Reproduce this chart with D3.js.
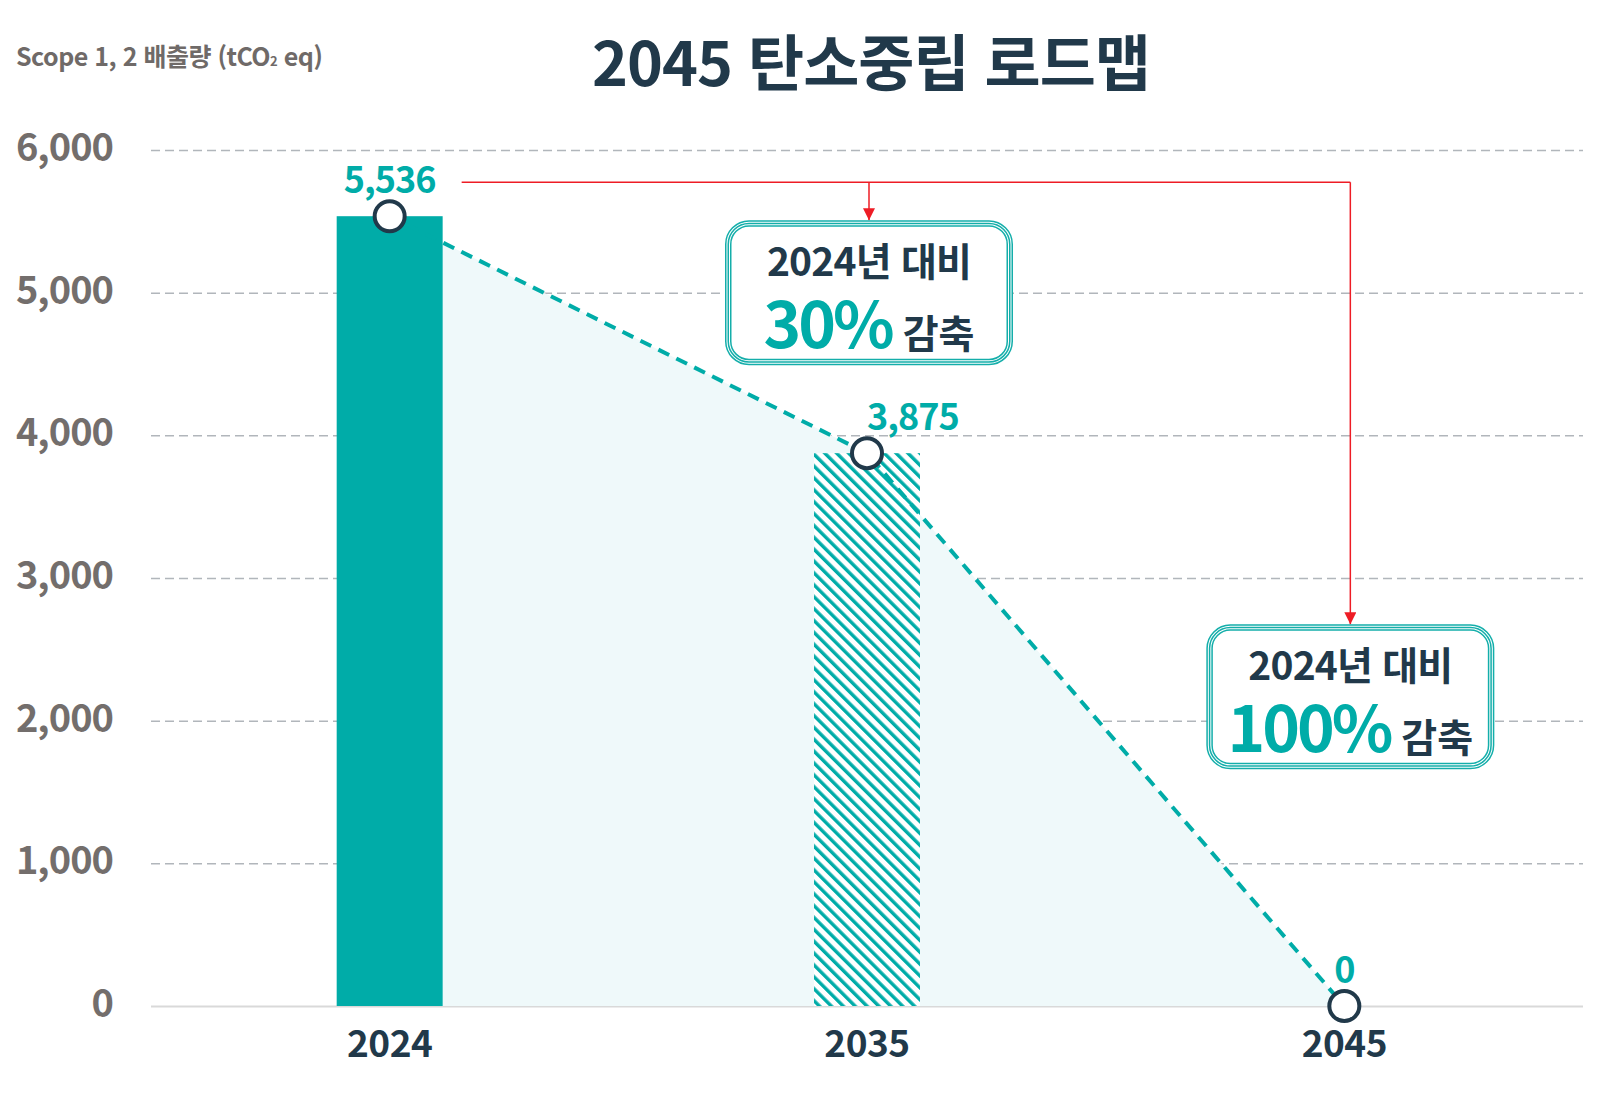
<!DOCTYPE html>
<html lang="ko">
<head>
<meta charset="utf-8">
<title>2045 탄소중립 로드맵</title>
<script src="https://cdn.jsdelivr.net/npm/d3@7"></script>
<style>
  body { margin: 0; background: #fff; }
  svg text { font-family: "Noto Sans CJK KR", "Noto Sans", sans-serif; font-weight: 700; }
</style>
</head>
<body>
<div id="roadmap-wrapper"></div>
<script>
/* data */
const years = ["2024", "2035", "2045"];
const emissions = [5536, 3875, 0];
const yTicks = [0, 1000, 2000, 3000, 4000, 5000, 6000];
const actualYears = ["2024"]; // solid bar, the rest are targets (hatched)
const calloutYears = ["2035", "2045"];
const reductions = [30, 100];
const baseYear = "2024";

const teal = "#00aca8";
const navy = "#21394a";
const gray = "#736e6c";
const red = "#ee1c25";

/* svg setup */
const margin = { top: 150, right: 27, bottom: 97, left: 151 };
const width = 1610;
const height = 1103;
const chartWidth = width - margin.left - margin.right;
const chartHeight = height - margin.top - margin.bottom;

const svg = d3
  .select("#roadmap-wrapper")
  .append("svg")
  .attr("width", width)
  .attr("height", height);

const defs = svg.append("defs");
defs
  .append("pattern")
  .attr("id", "hatch")
  .attr("patternUnits", "userSpaceOnUse")
  .attr("width", 8.4)
  .attr("height", 8.4)
  .attr("patternTransform", "rotate(-45)")
  .append("rect")
  .attr("width", 3.4)
  .attr("height", 8.4)
  .attr("fill", teal);

defs
  .append("marker")
  .attr("id", "arrow")
  .attr("viewBox", "0 0 12 12")
  .attr("refX", 12)
  .attr("refY", 6)
  .attr("markerWidth", 12)
  .attr("markerHeight", 12)
  .attr("markerUnits", "userSpaceOnUse")
  .attr("orient", "auto")
  .append("path")
  .attr("d", "M0,0 L12,6 L0,12 Z")
  .attr("fill", red);

const g = svg
  .append("g")
  .attr("transform", `translate(${margin.left},${margin.top})`);

/* scales */
const x = d3
  .scaleBand()
  .domain(years)
  .range([0, chartWidth])
  .paddingInner(0.778)
  .paddingOuter(0.389);
const y = d3.scaleLinear().domain([0, 6000]).range([chartHeight, 0]);
const cx = (yr) => x(yr) + x.bandwidth() / 2;

const points = years.map((yr, i) => ({ year: yr, value: emissions[i] }));

/* titles */
svg
  .append("text")
  .attr("x", 871)
  .attr("y", 86)
  .attr("text-anchor", "middle")
  .attr("fill", navy)
  .style("font-size", "61px")
  .style("letter-spacing", "-1px")
  .text(`${years[years.length - 1]} 탄소중립 로드맵`);

const unit = svg
  .append("text")
  .attr("x", 16)
  .attr("y", 66)
  .attr("fill", "#6f6a68")
  .style("font-size", "25px")
  .style("letter-spacing", "-0.5px");
unit.append("tspan").text("Scope 1, 2 배출량 (tCO");
unit.append("tspan").style("font-size", "13px").text("2");
unit.append("tspan").text(" eq)");

/*
 * Y Axis + grid
 */
g.append("g")
  .call(
    d3
      .axisLeft(y)
      .tickValues(yTicks)
      .tickSize(-chartWidth)
      .tickPadding(38)
      .tickFormat(d3.format(","))
  )
  .call((ax) => ax.select(".domain").remove())
  .call((ax) =>
    ax
      .selectAll(".tick line")
      .attr("stroke", (d) => (d === 0 ? "#d9d9d9" : "#b1b6bb"))
      .attr("stroke-width", (d) => (d === 0 ? 2 : 1.5))
      .attr("stroke-dasharray", (d) => (d === 0 ? null : "9,5"))
  )
  .call((ax) =>
    ax
      .selectAll(".tick text")
      .attr("fill", gray)
      .attr("dy", "0.28em")
      .style("font-size", "38px")
      .style("letter-spacing", "-1px")
  );

/*
 * X Axis
 */
g.append("g")
  .attr("transform", `translate(0, ${chartHeight})`)
  .call(d3.axisBottom(x).tickSize(0))
  .call((ax) => ax.select(".domain").remove())
  .selectAll("text")
  .attr("y", 51)
  .attr("dy", 0)
  .attr("fill", navy)
  .style("font-size", "37px")
  .style("letter-spacing", "-0.5px");

/* light area under the roadmap */
g.append("path")
  .datum(points)
  .attr("fill", "#eff9fa")
  .attr(
    "d",
    d3
      .area()
      .x((d) => cx(d.year))
      .y0(chartHeight)
      .y1((d) => y(d.value))
  );

/* bars */
g.selectAll(".bar")
  .data(points.filter((d) => d.value > 0))
  .enter()
  .append("rect")
  .attr("class", "bar")
  .attr("x", (d) => x(d.year))
  .attr("y", (d) => y(d.value))
  .attr("width", x.bandwidth())
  .attr("height", (d) => chartHeight - y(d.value))
  .attr("fill", (d) => (actualYears.includes(d.year) ? teal : "#fff"));

g.selectAll(".bar-hatch")
  .data(points.filter((d) => d.value > 0 && !actualYears.includes(d.year)))
  .enter()
  .append("rect")
  .attr("class", "bar-hatch")
  .attr("x", (d) => x(d.year))
  .attr("y", (d) => y(d.value))
  .attr("width", x.bandwidth())
  .attr("height", (d) => chartHeight - y(d.value))
  .attr("fill", "url(#hatch)");

/* dashed roadmap line */
g.append("path")
  .datum(points)
  .attr("fill", "none")
  .attr("stroke", teal)
  .attr("stroke-width", 4)
  .attr("stroke-dasharray", "12,8")
  .attr(
    "d",
    d3
      .line()
      .x((d) => cx(d.year))
      .y((d) => y(d.value))
  );

/* points */
g.selectAll(".dot")
  .data(points)
  .enter()
  .append("circle")
  .attr("class", "dot")
  .attr("cx", (d) => cx(d.year))
  .attr("cy", (d) => y(d.value))
  .attr("r", 15)
  .attr("fill", "#fff")
  .attr("stroke", navy)
  .attr("stroke-width", 4);

/* value labels (middle one sits right of the line) */
g.selectAll(".value-label")
  .data(points)
  .enter()
  .append("text")
  .attr("class", "value-label")
  .attr("x", (d, i) => cx(d.year))
  .attr("y", (d) => y(d.value) - 23)
  .attr("text-anchor", (d, i) => (i === 1 ? "start" : "middle"))
  .attr("fill", teal)
  .style("font-size", "36px")
  .style("letter-spacing", "-1px")
  .text((d) => d3.format(",")(d.value));

/*
 * red connector + callouts
 */
const redY = y(emissions[0]) - 34;
const boxW = 288;
const boxH = 145;
const boxCenter = [cx(calloutYears[0]) + 2, cx(calloutYears[1]) + 6];
const boxTop = [redY + 38, y(2675)];

g.append("path")
  .attr("fill", "none")
  .attr("stroke", red)
  .attr("stroke-width", 1.5)
  .attr(
    "d",
    `M${x(years[0]) + x.bandwidth() + 19},${redY} H${boxCenter[1]}`
  );

calloutYears.forEach((yr, i) => {
  g.append("line")
    .attr("x1", boxCenter[i])
    .attr("x2", boxCenter[i])
    .attr("y1", redY)
    .attr("y2", boxTop[i])
    .attr("stroke", red)
    .attr("stroke-width", 1.5)
    .attr("marker-end", "url(#arrow)");

  const box = g
    .append("g")
    .attr("transform", `translate(${boxCenter[i] - boxW / 2},${boxTop[i]})`);

  /* triple border */
  [0.75, 3.25, 5.75].forEach((inset) => {
    box
      .append("rect")
      .attr("x", inset)
      .attr("y", inset)
      .attr("width", boxW - inset * 2)
      .attr("height", boxH - inset * 2)
      .attr("rx", 24 - inset)
      .attr("fill", inset === 0.75 ? "#fff" : "none")
      .attr("stroke", "#14aeaa")
      .attr("stroke-width", 1.5);
  });

  box
    .append("text")
    .attr("x", boxW / 2)
    .attr("y", 56)
    .attr("text-anchor", "middle")
    .attr("fill", navy)
    .style("font-size", "39px")
    .style("letter-spacing", "-0.8px")
    .text(`${baseYear}년 대비`);

  const line2 = box
    .append("text")
    .attr("x", boxW / 2)
    .attr("y", 128)
    .attr("text-anchor", "middle");
  line2
    .append("tspan")
    .attr("fill", teal)
    .style("font-size", "64px")
    .style("letter-spacing", "-3px")
    .text(`${reductions[i]}%`);
  line2
    .append("tspan")
    .attr("fill", navy)
    .style("font-size", "39px")
    .text(" 감축");
});
</script>
</body>
</html>
